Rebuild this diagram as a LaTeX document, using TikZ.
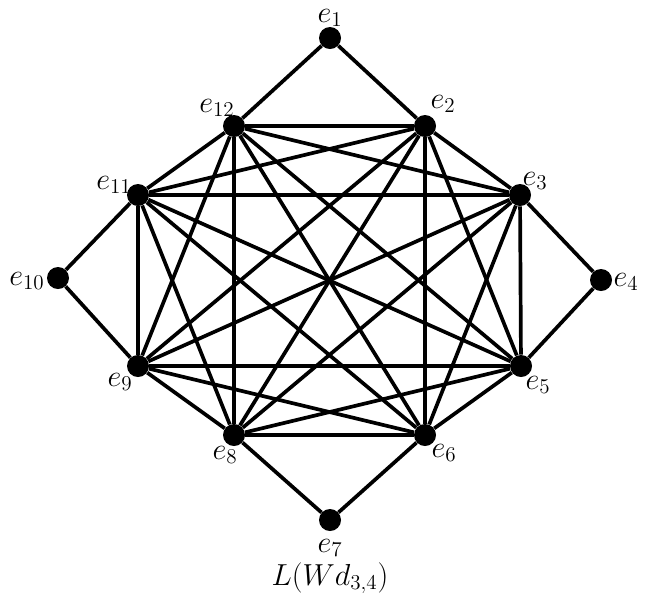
\documentclass[tikz,border=0pt]{standalone}
\usepackage{fontspec}
\setmainfont{Liberation Serif}
\usepackage{tikz}

\tikzset{
    dot/.style={circle, fill=black, inner sep=0pt, minimum size=0.44cm},
    edge/.style={line width=2.1pt},
    lbl/.style={font=\fontsize{17}{19}\selectfont\itshape, inner sep=0pt},
}

\begin{document}
\begin{tikzpicture}
        \useasboundingbox (0,0) rectangle (12.94,-12.08);

        \node[dot] (e1) at (6.6,-0.76) {};
        \node[dot] (e2) at (8.5,-2.52) {};
        \node[dot] (e3) at (10.4,-3.9) {};
        \node[dot] (e4) at (12.02,-5.6) {};
        \node[dot] (e5) at (10.42,-7.32) {};
        \node[dot] (e6) at (8.5,-8.7) {};
        \node[dot] (e7) at (6.6,-10.4) {};
        \node[dot] (e8) at (4.68,-8.7) {};
        \node[dot] (e9) at (2.76,-7.32) {};
        \node[dot] (e10) at (1.16,-5.56) {};
        \node[dot] (e11) at (2.76,-3.9) {};
        \node[dot] (e12) at (4.68,-2.52) {};

        % outer vertices
        \draw[edge] (e1) -- (e2);
        \draw[edge] (e1) -- (e12);
        \draw[edge] (e4) -- (e3);
        \draw[edge] (e4) -- (e5);
        \draw[edge] (e7) -- (e6);
        \draw[edge] (e7) -- (e8);
        \draw[edge] (e10) -- (e9);
        \draw[edge] (e10) -- (e11);

        % inner complete graph
        \draw[edge] (e2) -- (e3);
        \draw[edge] (e2) -- (e5);
        \draw[edge] (e2) -- (e6);
        \draw[edge] (e2) -- (e8);
        \draw[edge] (e2) -- (e9);
        \draw[edge] (e2) -- (e11);
        \draw[edge] (e2) -- (e12);
        \draw[edge] (e3) -- (e5);
        \draw[edge] (e3) -- (e6);
        \draw[edge] (e3) -- (e8);
        \draw[edge] (e3) -- (e9);
        \draw[edge] (e3) -- (e11);
        \draw[edge] (e3) -- (e12);
        \draw[edge] (e5) -- (e6);
        \draw[edge] (e5) -- (e8);
        \draw[edge] (e5) -- (e9);
        \draw[edge] (e5) -- (e11);
        \draw[edge] (e5) -- (e12);
        \draw[edge] (e6) -- (e8);
        \draw[edge] (e6) -- (e9);
        \draw[edge] (e6) -- (e11);
        \draw[edge] (e6) -- (e12);
        \draw[edge] (e8) -- (e9);
        \draw[edge] (e8) -- (e11);
        \draw[edge] (e8) -- (e12);
        \draw[edge] (e9) -- (e11);
        \draw[edge] (e9) -- (e12);
        \draw[edge] (e11) -- (e12);

        % labels
        \node[lbl] (l1) at (6.6,-0.36) {$e_{1}$};
        \node[lbl] (l2) at (8.86,-2.08) {$e_{2}$};
        \node[lbl] (l3) at (10.7,-3.62) {$e_{3}$};
        \node[lbl] (l4) at (12.52,-5.64) {$e_{4}$};
        \node[lbl] (l5) at (10.76,-7.7) {$e_{5}$};
        \node[lbl] (l6) at (8.88,-9.06) {$e_{6}$};
        \node[lbl] (l7) at (6.6,-10.96) {$e_{7}$};
        \node[lbl] (l8) at (4.5,-9.1) {$e_{8}$};
        \node[lbl] (l9) at (2.4,-7.64) {$e_{9}$};
        \node[lbl] (l10) at (0.54,-5.62) {$e_{10}$};
        \node[lbl] (l11) at (2.28,-3.7) {$e_{11}$};
        \node[lbl] (l12) at (4.34,-2.16) {$e_{12}$};

        \node[lbl] (cap) at (6.6,-11.56) {$L(Wd_{3,4})$};
\end{tikzpicture}
\end{document}
